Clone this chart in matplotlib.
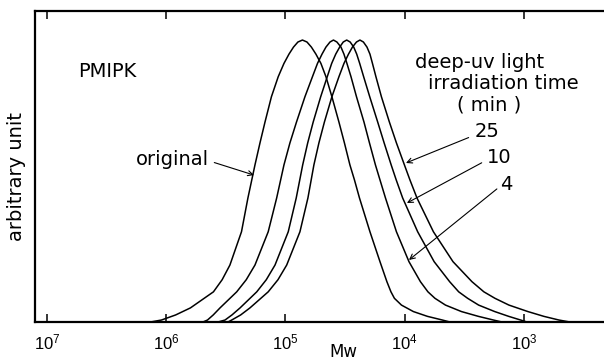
import numpy as np
import matplotlib
matplotlib.use("Agg")
import matplotlib.pyplot as plt
from matplotlib.ticker import FixedLocator, NullLocator

plt.rcParams['font.family'] = ['DejaVu Sans']
plt.rcParams['mathtext.fontset'] = 'custom'
plt.rcParams['mathtext.rm'] = 'Liberation Sans'
plt.rcParams['mathtext.it'] = 'Liberation Sans:italic'
plt.rcParams['mathtext.bf'] = 'Liberation Sans:bold'

# ---- data: log10(Mw) and relative height (arbitrary unit) ----
orig_logmw = [6.131, 6.039, 5.920, 5.796, 5.603, 5.530, 5.465, 5.368, 5.314, 5.255,
              5.213, 5.171, 5.117, 5.060, 5.012, 4.970, 4.932, 4.895, 4.857,
              4.819, 4.782, 4.744, 4.702, 4.660, 4.610, 4.551, 4.505, 4.459, 4.421,
              4.379, 4.291, 4.207, 4.149, 4.115, 4.086, 4.027, 3.927, 3.809, 3.684, 3.621]
orig_h = [0.0, 0.007, 0.025, 0.05, 0.107, 0.150, 0.202, 0.32, 0.44, 0.557,
          0.635, 0.709, 0.799, 0.87, 0.917, 0.95, 0.975, 0.993, 1.0,
          0.993, 0.975, 0.95, 0.917, 0.87, 0.799, 0.709, 0.635, 0.557, 0.504,
          0.44, 0.32, 0.214, 0.143, 0.107, 0.084, 0.06, 0.037, 0.02, 0.007, 0.0]

min4_logmw = [5.691, 5.653, 5.605, 5.548, 5.408, 5.328, 5.255, 5.144, 5.073, 5.012,
              4.962, 4.907, 4.836, 4.773, 4.731, 4.693, 4.660, 4.626, 4.597,
              4.568, 4.534, 4.509, 4.484, 4.450, 4.404, 4.341, 4.295, 4.245, 4.207,
              4.161, 4.069, 3.964, 3.868, 3.805, 3.746, 3.658, 3.524, 3.382, 3.256, 3.185]
min4_h = [0.0, 0.007, 0.025, 0.05, 0.107, 0.150, 0.202, 0.32, 0.44, 0.557,
          0.635, 0.709, 0.799, 0.87, 0.917, 0.95, 0.975, 0.993, 1.0,
          0.993, 0.975, 0.95, 0.917, 0.87, 0.799, 0.709, 0.635, 0.557, 0.504,
          0.44, 0.32, 0.214, 0.143, 0.107, 0.084, 0.06, 0.037, 0.02, 0.007, 0.0]

min10_logmw = [5.565, 5.506, 5.448, 5.380, 5.240, 5.160, 5.087, 4.976, 4.909, 4.855,
               4.813, 4.767, 4.704, 4.649, 4.612, 4.578, 4.545, 4.515, 4.486,
               4.457, 4.427, 4.402, 4.377, 4.344, 4.293, 4.226, 4.172, 4.113, 4.071,
               4.017, 3.891, 3.753, 3.623, 3.547, 3.472, 3.380, 3.245, 3.128, 3.028, 2.975]
min10_h = [0.0, 0.007, 0.025, 0.05, 0.107, 0.150, 0.202, 0.32, 0.44, 0.557,
           0.635, 0.709, 0.799, 0.87, 0.917, 0.95, 0.975, 0.993, 1.0,
           0.993, 0.975, 0.95, 0.917, 0.87, 0.799, 0.709, 0.635, 0.557, 0.504,
           0.44, 0.32, 0.214, 0.143, 0.107, 0.084, 0.06, 0.037, 0.02, 0.007, 0.0]

min25_logmw = [5.481, 5.450, 5.375, 5.297, 5.144, 5.062, 4.989, 4.878, 4.811, 4.761,
               4.719, 4.673, 4.610, 4.551, 4.509, 4.471, 4.438, 4.404, 4.375,
               4.346, 4.316, 4.291, 4.270, 4.241, 4.195, 4.128, 4.069, 4.002, 3.956,
               3.897, 3.759, 3.595, 3.436, 3.336, 3.243, 3.126, 2.967, 2.833, 2.707, 2.615]
min25_h = [0.0, 0.007, 0.025, 0.05, 0.107, 0.150, 0.202, 0.32, 0.44, 0.557,
           0.635, 0.709, 0.799, 0.87, 0.917, 0.95, 0.975, 0.993, 1.0,
           0.993, 0.975, 0.95, 0.917, 0.87, 0.799, 0.709, 0.635, 0.557, 0.504,
           0.44, 0.32, 0.214, 0.143, 0.107, 0.084, 0.06, 0.037, 0.02, 0.007, 0.0]

tick_exponents = [7, 6, 5, 4, 3]
time_labels = ['25', '10', '4']

# ---- figure ----
fig = plt.figure(figsize=(6.04, 3.63), dpi=100)
ax = fig.add_axes([35/604, 1 - 322/363, 1 - 35/604, (322 - 11)/363])

for lm, h in [(orig_logmw, orig_h), (min4_logmw, min4_h),
              (min10_logmw, min10_h), (min25_logmw, min25_h)]:
    ax.plot(10 ** np.array(lm), h, color='black', lw=1.1,
            solid_joinstyle='round', solid_capstyle='round')

ax.set_xscale('log')
ax.set_xlim(10 ** 7.099, 10 ** 2.329)
ax.set_ylim(0, 1.103)

ax.xaxis.set_major_locator(FixedLocator([10.0 ** e for e in tick_exponents]))
ax.xaxis.set_minor_locator(NullLocator())
ax.set_xticklabels([r'$10^{%d}$' % e for e in tick_exponents], fontsize=12)
ax.tick_params(axis='x', which='major', direction='in', length=6, width=1.1,
               top=True, bottom=True, pad=8)
ax.set_yticks([])

for s in ['left', 'top', 'bottom']:
    ax.spines[s].set_linewidth(1.6)
ax.spines['right'].set_visible(False)

FS = 14
# texts
ax.text(0.0756, 0.807, 'PMIPK', transform=ax.transAxes, fontsize=FS,
        ha='left', va='center')
ax.text(0.668, 0.836, 'deep-uv light', transform=ax.transAxes, fontsize=FS,
        ha='left', va='center')
ax.text(0.691, 0.768, 'irradiation time', transform=ax.transAxes, fontsize=FS,
        ha='left', va='center')
ax.text(0.742, 0.698, '( min )', transform=ax.transAxes, fontsize=FS,
        ha='left', va='center')

arrow = dict(arrowstyle='->', lw=0.8, color='black', shrinkA=1, shrinkB=0,
             mutation_scale=9)
# irradiation time labels with arrows
tips = [(3.989, 0.564), (3.981, 0.422), (3.964, 0.220)]
tails = [(3.453, 0.656), (3.344, 0.567), (3.218, 0.475)]
txts = [(3.411, 0.677), (3.310, 0.582), (3.201, 0.486)]
for lab, tip, tail, tp in zip(time_labels, tips, tails, txts):
    ax.annotate('', xy=(10 ** tip[0], tip[1]), xytext=(10 ** tail[0], tail[1]),
                arrowprops=arrow)
    ax.text(10 ** tp[0], tp[1], lab, fontsize=FS, ha='left', va='center')

ax.annotate('', xy=(10 ** 5.263, 0.521), xytext=(10 ** 5.607, 0.567),
            arrowprops=arrow)
ax.text(10 ** 5.640, 0.578, 'original', fontsize=FS, ha='right', va='center')

fig.text(17/604, 1 - 177/363, 'arbitrary unit', rotation=90, fontsize=FS,
         ha='center', va='center')
fig.text(343/604, 2/363, 'Mw', fontsize=12, ha='center', va='bottom')

fig.savefig('out.png', dpi=100)
